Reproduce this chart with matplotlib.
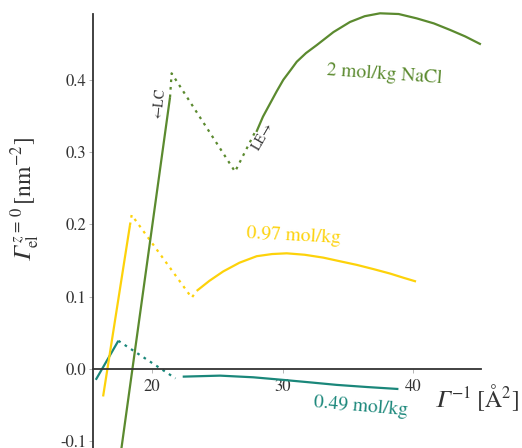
import matplotlib
matplotlib.use("Agg")
import matplotlib.pyplot as plt

plt.rcParams["font.family"] = ["STIXGeneral", "DejaVu Serif"]
plt.rcParams["mathtext.fontset"] = "stix"

GREEN = "#5b8a2f"
YELLOW = "#fdd20a"
TEAL = "#1a877a"
GAMMA = "\U0001D6E4"  # italic capital gamma

# 2 mol/kg NaCl
green_lc_x = [17.5, 21.38]
green_lc_y = [-0.13, 0.376]
green_dot_x = [21.38, 21.5, 26.36, 27.9]
green_dot_y = [0.376, 0.409, 0.273, 0.328]
green_le_x = [28.0, 28.5, 29.04, 29.55, 30.06, 30.6, 31.09, 31.8, 32.62, 33.9,
              35.17, 36.3, 37.47, 38.9, 40.28, 41.6, 42.84, 44.0, 45.2]
green_le_y = [0.328, 0.349, 0.367, 0.384, 0.400, 0.413, 0.425, 0.437, 0.448, 0.466,
              0.480, 0.488, 0.492, 0.491, 0.485, 0.478, 0.469, 0.460, 0.449]

# 0.97 mol/kg
yellow_lc_x = [16.25, 18.31]
yellow_lc_y = [-0.038, 0.199]
yellow_dot_x = [18.31, 18.44, 23.04, 23.42]
yellow_dot_y = [0.199, 0.213, 0.0986, 0.108]
yellow_le_x = [23.42, 24.4, 25.46, 26.7, 28.02, 29.2, 30.32, 31.7, 33.13, 34.4,
               35.69, 37.0, 38.24, 39.3, 40.23]
yellow_le_y = [0.108, 0.122, 0.135, 0.147, 0.156, 0.159, 0.160, 0.158, 0.154, 0.149,
               0.144, 0.138, 0.132, 0.126, 0.121]

# 0.49 mol/kg
teal_lc_x = [15.69, 17.42]
teal_lc_y = [-0.015, 0.039]
teal_dot_x = [17.42, 21.8]
teal_dot_y = [0.039, -0.013]
teal_le_x = [22.35, 25.21, 27.76, 29.99, 32.1, 34.15, 36.5, 38.88]
teal_le_y = [-0.0106, -0.0092, -0.0115, -0.015, -0.0185, -0.022, -0.025, -0.0277]

xticks = [20, 30, 40]
yticks = [-0.1, 0.0, 0.1, 0.2, 0.3, 0.4]

fig = plt.figure(figsize=(5.22, 4.48), dpi=100)
ax = fig.add_axes([0, 0, 1, 1])
ax.set_xlim(8.35, 48.35)
ax.set_ylim(-0.1093, 0.5104)

dots = (0, (1.2, 2.2))
lw = 1.6
for col, lx, ly, dx, dy, ex, ey in [
    (TEAL, teal_lc_x, teal_lc_y, teal_dot_x, teal_dot_y, teal_le_x, teal_le_y),
    (YELLOW, yellow_lc_x, yellow_lc_y, yellow_dot_x, yellow_dot_y, yellow_le_x, yellow_le_y),
    (GREEN, green_lc_x, green_lc_y, green_dot_x, green_dot_y, green_le_x, green_le_y),
]:
    ax.plot(lx, ly, color=col, lw=lw, solid_capstyle="butt")
    ax.plot(dx, dy, color=col, lw=lw, linestyle=dots)
    ax.plot(ex, ey, color=col, lw=lw, solid_capstyle="butt", solid_joinstyle="round")

for s in ["top", "right"]:
    ax.spines[s].set_visible(False)
ax.spines["left"].set_position(("data", 15.5))
ax.spines["bottom"].set_position(("data", 0))
ax.spines["left"].set_bounds(-0.115, 0.491)
ax.spines["bottom"].set_bounds(15.5, 45.2)
for s in ["left", "bottom"]:
    ax.spines[s].set_color("#333333")
    ax.spines[s].set_linewidth(1.3)
ax.set_axisbelow(True)

ax.set_xticks(xticks)
ax.set_xticklabels([str(t) for t in xticks])
ax.set_yticks(yticks)
ax.set_yticklabels(["%.1f" % t for t in yticks])
ax.tick_params(axis="both", length=3, width=0.6, color="#aaaaaa",
               labelsize=12, labelcolor="#333333")
ax.tick_params(axis="x", pad=4)
ax.tick_params(axis="y", pad=2)

fig.text(25 / 522, 1 - 200 / 448,
         r"$%s^{\,z\,=\,0}_{\mathrm{el}}\,[\mathrm{nm}^{-2}]$" % GAMMA,
         rotation=90, ha="center", va="center", fontsize=17, color="#333333")
ax.text(41.6, -0.040, r"$%s^{-1}\;[\mathrm{\AA}^{2}]$" % GAMMA,
        ha="left", va="center", fontsize=17, color="#333333")

ax.text(20.54, 0.368, "\u2190LC", rotation=84, ha="center", va="center",
        fontsize=10, color="#333333")
ax.text(28.5, 0.322, "LE\u2192", rotation=60, ha="center", va="center",
        fontsize=10, color="#333333")

ax.text(37.83, 0.407, "2 mol/kg NaCl", rotation=-4, ha="center", va="center",
        fontsize=14, color=GREEN)
ax.text(30.84, 0.184, "0.97 mol/kg", rotation=-3, ha="center", va="center",
        fontsize=14, color=YELLOW)
ax.text(35.99, -0.0526, "0.49 mol/kg", rotation=-5, ha="center", va="center",
        fontsize=14, color=TEAL)

fig.savefig("out.png", dpi=100)
